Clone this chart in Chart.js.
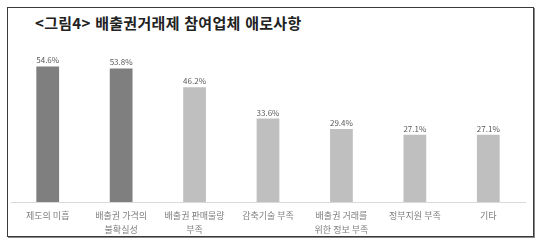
<!DOCTYPE html>
<html lang="ko">
<head>
    <meta charset="UTF-8">
    <title>배출권거래제 참여업체 애로사항</title>
    <script src="https://cdn.jsdelivr.net/npm/chart.js"></script>
    <style>
        body { margin: 0; background: #fff; }
        #wrap { position: relative; width: 540px; height: 241px; }
        #frame { position: absolute; left: 7px; top: 7px; width: 525px; height: 228px; border: 1px solid #3a3a3a; box-shadow: 1px 1px 0 #888; }
        #title { position: absolute; left: 35px; top: 12px; font: bold 15px "Noto Sans CJK KR", sans-serif; color: #222; letter-spacing: 0.3px; }
        canvas { position: absolute; left: 0; top: 0; }
    </style>
</head>
<body>
    <div id="wrap">
        <div id="frame"></div>
        <div id="title">&lt;그림4&gt; 배출권거래제 참여업체 애로사항</div>
        <canvas id="chart" width="540" height="241"></canvas>
    </div>
    <script>
        const labels = [
            '제도의 미흡',
            ['배출권 가격의', '불확실성'],
            ['배출권 판매물량', '부족'],
            '감축기술 부족',
            ['배출권 거래를', '위한 정보 부족'],
            '정부지원 부족',
            '기타'
        ];
        const values = [54.6, 53.8, 46.2, 33.6, 29.4, 27.1, 27.1];
        const barColors = ['#7f7f7f', '#7f7f7f', '#bfbfbf', '#bfbfbf', '#bfbfbf', '#bfbfbf', '#bfbfbf'];

        const valueLabels = {
            id: 'valueLabels',
            afterDatasetsDraw(chart) {
                const ctx = chart.ctx;
                const meta = chart.getDatasetMeta(0);
                ctx.save();
                ctx.font = '8px "Noto Sans CJK KR", sans-serif';
                ctx.fillStyle = '#595959';
                ctx.textAlign = 'center';
                ctx.textBaseline = 'bottom';
                meta.data.forEach((bar, i) => {
                    ctx.fillText(values[i].toFixed(1) + '%', bar.x, bar.y - 2);
                });
                ctx.restore();
            }
        };

        new Chart(document.getElementById('chart'), {
            type: 'bar',
            data: {
                labels: labels,
                datasets: [{
                    data: values,
                    backgroundColor: barColors,
                    barPercentage: 0.31,
                    categoryPercentage: 1
                }]
            },
            options: {
                responsive: false,
                animation: false,
                layout: { padding: { left: 11, right: 15, top: 53, bottom: 4 } },
                plugins: { legend: { display: false }, tooltip: { enabled: false } },
                scales: {
                    y: { display: false, min: 0, max: 60 },
                    x: {
                        grid: { display: false, drawTicks: false },
                        border: { display: true, color: '#d9d9d9' },
                        afterFit(scale) { scale.height = 35; },
                        ticks: {
                            padding: 6,
                            maxRotation: 0,
                            autoSkip: false,
                            color: '#7f7f7f',
                            font: { size: 9, family: '"Noto Sans CJK KR", sans-serif', lineHeight: 1.6 }
                        }
                    }
                }
            },
            plugins: [valueLabels]
        });
    </script>
</body>
</html>
